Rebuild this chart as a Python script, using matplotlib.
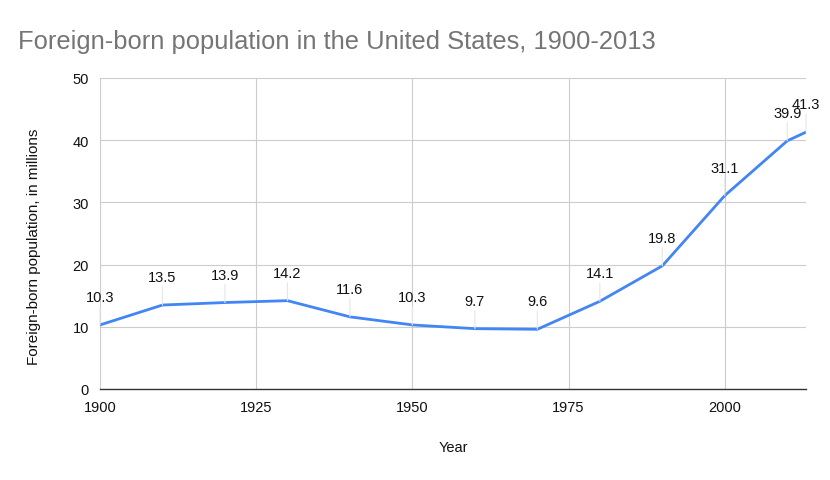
import matplotlib
matplotlib.use("Agg")
import matplotlib.pyplot as plt

plt.rcParams['font.family'] = ['Liberation Sans', 'DejaVu Sans']

years = [1900, 1910, 1920, 1930, 1940, 1950, 1960, 1970, 1980, 1990, 2000, 2010, 2013]
pop = [10.3, 13.5, 13.9, 14.2, 11.6, 10.3, 9.7, 9.6, 14.1, 19.8, 31.1, 39.9, 41.3]
xticks = [1900, 1925, 1950, 1975, 2000]
yticks = [0, 10, 20, 30, 40, 50]

fig = plt.figure(figsize=(8.3, 4.81), dpi=100)
ax = fig.add_axes([100/830, 91/481, 706/830, 311/481])

ax.plot(years, pop, color='#4285f4', lw=2, zorder=3)

for x, y in zip(years, pop):
    ax.annotate(f"{y}", xy=(x, y), xytext=(0, 15), textcoords='offset points',
                ha='center', va='bottom', fontsize=10.5, color='#111111',
                arrowprops=dict(arrowstyle='-', color='#e6e6e6', lw=0.8,
                                shrinkA=0, shrinkB=0), zorder=4)

ax.set_xlim(1900, 2013)
ax.set_ylim(0, 50)
ax.set_xticks(xticks)
ax.set_yticks(yticks)
ax.grid(True, color='#cccccc', lw=0.8)
ax.set_axisbelow(True)
for s in ['top', 'right', 'left']:
    ax.spines[s].set_visible(False)
ax.spines['bottom'].set_color('#333333')
ax.spines['bottom'].set_linewidth(1)
ax.tick_params(length=0, labelsize=10.5, colors='#111111', pad=8)

ax.set_xlabel("Year", fontsize=10.5, color='#111111', labelpad=19)
ax.set_ylabel("Foreign-born population, in millions", fontsize=11, color='#111111')
ax.yaxis.set_label_coords(-0.084, 0.461)

fig.text(18/830, 1 - 42/481, "Foreign-born population in the United States, 1900-2013",
         fontsize=18.4, color='#757575', va='center', ha='left')

fig.savefig("out.png", dpi=100)
